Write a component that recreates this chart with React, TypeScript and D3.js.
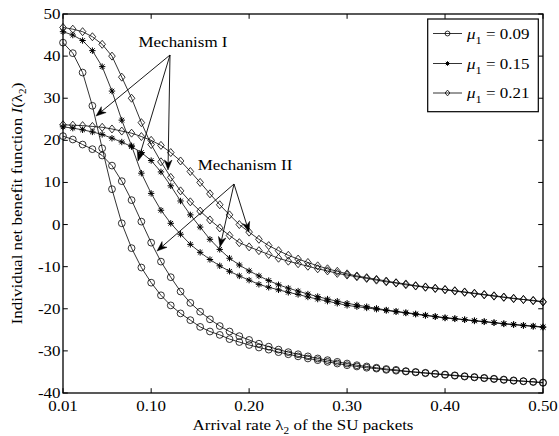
import React from 'react';
import * as d3 from 'd3';

const lambda = [
  0.01, 0.02, 0.03, 0.04, 0.05, 0.06, 0.07, 0.08, 0.09, 0.10,
  0.11, 0.12, 0.13, 0.14, 0.15, 0.16, 0.17, 0.18, 0.19, 0.20,
  0.21, 0.22, 0.23, 0.24, 0.25, 0.26, 0.27, 0.28, 0.29, 0.30,
  0.31, 0.32, 0.33, 0.34, 0.35, 0.36, 0.37, 0.38, 0.39, 0.40,
  0.41, 0.42, 0.43, 0.44, 0.45, 0.46, 0.47, 0.48, 0.49, 0.50,
];

// mu1 = 0.09
const mu009MechI = [
  43.2, 40.7, 36.1, 28.2, 18.1, 8.4, 0.3, -5.6, -10.2, -13.8,
  -16.8, -19.2, -21.1, -22.7, -24.3, -25.4, -26.2, -27.2, -27.9, -28.6,
  -29.2, -29.7, -30.3, -30.8, -31.3, -31.8, -32.2, -32.6, -33.0, -33.4,
  -33.7, -34.0, -34.2, -34.5, -34.7, -34.9, -35.1, -35.3, -35.5, -35.7,
  -35.9, -36.1, -36.3, -36.5, -36.7, -36.9, -37.1, -37.2, -37.4, -37.6,
];
const mu009MechII = [
  21.0, 20.2, 19.0, 17.9, 16.4, 14.0, 10.3, 5.8, 0.7, -4.3,
  -8.8, -12.5, -15.9, -18.6, -20.7, -22.5, -24.1, -25.4, -26.5, -27.4,
  -28.3, -29.0, -29.7, -30.3, -30.8, -31.3, -31.8, -32.2, -32.6, -33.0,
  -33.4, -33.7, -34.0, -34.3, -34.5, -34.8, -35.0, -35.2, -35.4, -35.6,
  -35.8, -36.0, -36.2, -36.4, -36.6, -36.8, -37.0, -37.2, -37.3, -37.5,
];
// mu1 = 0.15
const mu015MechI = [
  45.8, 45.0, 43.7, 41.3, 37.5, 31.7, 24.8, 18.7, 12.2, 7.4,
  3.4, 0.3, -2.3, -4.7, -6.6, -8.3, -9.8, -11.1, -12.2, -13.2,
  -14.2, -14.9, -15.5, -16.1, -16.6, -17.2, -17.7, -18.2, -18.7, -19.2,
  -19.5, -19.8, -20.1, -20.4, -20.7, -21.0, -21.3, -21.6, -21.9, -22.2,
  -22.4, -22.6, -22.9, -23.1, -23.3, -23.6, -23.8, -24.0, -24.2, -24.4,
];
const mu015MechII = [
  23.2, 22.9, 22.5, 22.0, 21.4, 20.5, 19.6, 18.5, 17.1, 15.2,
  12.5, 9.2, 5.6, 2.3, -0.6, -3.5, -5.9, -8.0, -9.6, -11.0,
  -12.2, -13.3, -14.3, -15.1, -15.8, -16.5, -17.1, -17.7, -18.2, -18.7,
  -19.1, -19.5, -19.9, -20.3, -20.6, -20.9, -21.2, -21.5, -21.8, -22.1,
  -22.3, -22.6, -22.8, -23.0, -23.3, -23.5, -23.7, -23.9, -24.1, -24.3,
];
// mu1 = 0.21
const mu021MechI = [
  46.8, 46.4, 45.8, 44.6, 42.8, 40.0, 35.0, 30.0, 24.2, 19.0,
  14.9, 11.2, 8.0, 5.4, 3.2, 1.1, -0.8, -2.6, -4.3, -5.3,
  -6.2, -7.1, -8.0, -8.7, -9.3, -9.9, -10.5, -11.0, -11.6, -12.0,
  -12.4, -12.8, -13.2, -13.6, -13.9, -14.3, -14.6, -14.9, -15.2, -15.5,
  -15.8, -16.1, -16.4, -16.7, -17.0, -17.3, -17.6, -17.8, -18.1, -18.4,
];
const mu021MechII = [
  23.7, 23.6, 23.5, 23.3, 23.1, 22.7, 22.2, 21.7, 20.9, 20.0,
  18.8, 17.1, 15.1, 12.6, 10.0, 7.3, 4.7, 2.3, 0.0, -1.8,
  -3.5, -5.0, -6.2, -7.3, -8.2, -9.0, -9.8, -10.5, -11.1, -11.7,
  -12.2, -12.6, -13.0, -13.4, -13.8, -14.1, -14.5, -14.8, -15.1, -15.4,
  -15.7, -16.0, -16.3, -16.6, -16.9, -17.2, -17.5, -17.8, -18.0, -18.3,
];

const xTicks = [0.01, 0.1, 0.2, 0.3, 0.4, 0.5];
const xTickLabels = ['0.01', '0.10', '0.20', '0.30', '0.40', '0.50'];
const yTicks = [-40, -30, -20, -10, 0, 10, 20, 30, 40, 50];
const legendLabels = ['0.09', '0.15', '0.21'];
const legendMarkers = ['o', '*', 'd'];

const W = 559;
const H = 436;
const L = 63, R = 543, T = 14, B = 393;
const FONT = "'Liberation Serif','Times New Roman',serif";
const FS = 15;
const SX = 1.13;

const x = d3.scaleLinear().domain([0.01, 0.5]).range([L, R]);
const y = d3.scaleLinear().domain([-40, 50]).range([B, T]);

const series = [
  { data: mu009MechI, marker: 'o' },
  { data: mu009MechII, marker: 'o' },
  { data: mu015MechI, marker: '*' },
  { data: mu015MechII, marker: '*' },
  { data: mu021MechI, marker: 'd' },
  { data: mu021MechII, marker: 'd' },
];

function Marker({ type, cx, cy, scale = 1 }: { type: string; cx: number; cy: number; scale?: number }) {
  if (type === 'o') {
    return <circle cx={cx} cy={cy} r={3.4 * scale} fill="none" stroke="#000" strokeWidth={0.8} />;
  }
  if (type === 'd') {
    const hw = 3.3 * scale, hh = 4.0 * scale;
    return (
      <path
        d={`M${cx},${cy - hh}L${cx + hw},${cy}L${cx},${cy + hh}L${cx - hw},${cy}Z`}
        fill="none"
        stroke="#000"
        strokeWidth={0.8}
      />
    );
  }
  const a = 3.2 * scale, b = 2.3 * scale;
  return (
    <path
      d={`M${cx - a},${cy}L${cx + a},${cy}M${cx},${cy - a}L${cx},${cy + a}M${cx - b},${cy - b}L${cx + b},${cy + b}M${cx - b},${cy + b}L${cx + b},${cy - b}`}
      stroke="#000"
      strokeWidth={1}
    />
  );
}

function Txt({ x: tx, y: ty, anchor = 'start', rot = 0, children, size = FS }: any) {
  return (
    <text
      transform={`translate(${tx},${ty}) rotate(${rot}) scale(${SX},1)`}
      textAnchor={anchor}
      fontFamily={FONT}
      fontSize={size}
      fill="#000"
    >
      {children}
    </text>
  );
}

function Arrow({ x1, y1, x2, y2 }: { x1: number; y1: number; x2: number; y2: number }) {
  const dx = x2 - x1, dy = y2 - y1;
  const len = Math.sqrt(dx * dx + dy * dy);
  const ux = dx / len, uy = dy / len;
  const nx = -uy, ny = ux;
  const hl = 10, hw = 3.8, notch = 3;
  const bx = x2 - hl * ux, by = y2 - hl * uy;
  const mx = x2 - (hl - notch) * ux, my = y2 - (hl - notch) * uy;
  return (
    <g>
      <line x1={x1} y1={y1} x2={mx} y2={my} stroke="#000" strokeWidth={0.9} />
      <path
        d={`M${x2},${y2}L${bx + hw * nx},${by + hw * ny}L${mx},${my}L${bx - hw * nx},${by - hw * ny}Z`}
        fill="#000"
        stroke="#000"
        strokeWidth={0.5}
      />
    </g>
  );
}

export default function App() {
  const line = d3
    .line<number>()
    .x((_, i) => x(lambda[i]))
    .y((d) => y(d));

  const mech1Origin = { x: 170, y: 55 };
  const mech1Targets = [
    { x: 96, y: 116 },
    { x: 138, y: 161 },
    { x: 168, y: 170 },
  ];
  const mech2Origin = { x: 234, y: 184 };
  const mech2Targets = [
    { x: 157, y: 251 },
    { x: 220, y: 247 },
    { x: 249, y: 232 },
  ];

  const tickLen = 4.8;
  const legX = 427.7, legY = 19, legW = 110.6, legH = 92.7;
  const rowY = [33.5, 63.5, 93];

  return (
    <svg
      width={W}
      height={H}
      style={{ position: 'absolute', left: 0, top: 0, background: '#fff' }}
    >
      <rect x={0} y={0} width={W} height={H} fill="#fff" />
      {/* curves */}
      {series.map((s, si) => (
        <path key={'l' + si} d={line(s.data) || ''} fill="none" stroke="#000" strokeWidth={0.8} />
      ))}
      {series.map((s, si) =>
        s.data.map((v, i) => (
          <Marker key={'m' + si + '-' + i} type={s.marker} cx={x(lambda[i])} cy={y(v)} />
        ))
      )}

      {/* axes box */}
      <rect x={L} y={T} width={R - L} height={B - T} fill="none" stroke="#000" strokeWidth={1.3} />
      {xTicks.map((t, i) => (
        <g key={'xt' + i}>
          <line x1={x(t)} x2={x(t)} y1={B} y2={B - tickLen} stroke="#000" strokeWidth={1} />
          <line x1={x(t)} x2={x(t)} y1={T} y2={T + tickLen} stroke="#000" strokeWidth={1} />
          <Txt x={x(t)} y={411} anchor="middle">{xTickLabels[i]}</Txt>
        </g>
      ))}
      {yTicks.map((t, i) => (
        <g key={'yt' + i}>
          <line x1={L} x2={L + tickLen} y1={y(t)} y2={y(t)} stroke="#000" strokeWidth={1} />
          <line x1={R} x2={R - tickLen} y1={y(t)} y2={y(t)} stroke="#000" strokeWidth={1} />
          <Txt x={60.5} y={y(t) + 5} anchor="end">{String(t)}</Txt>
        </g>
      ))}

      {/* axis titles */}
      <Txt x={(L + R) / 2} y={430} anchor="middle">
        Arrival rate λ<tspan fontSize={10} dy={4}>2</tspan>
        <tspan dy={-4}> of the SU packets</tspan>
      </Txt>
      <Txt x={21.5} y={(T + B) / 2} anchor="middle" rot={-90}>
        Individual net benefit function <tspan fontStyle="italic">I</tspan>(λ
        <tspan fontSize={10} dy={4}>2</tspan>
        <tspan dy={-4}>)</tspan>
      </Txt>

      {/* annotations */}
      <Txt x={183} y={47} anchor="middle">Mechanism I</Txt>
      {mech1Targets.map((p, i) => (
        <Arrow key={'a1' + i} x1={mech1Origin.x} y1={mech1Origin.y} x2={p.x} y2={p.y} />
      ))}
      <Txt x={245} y={170} anchor="middle">Mechanism II</Txt>
      {mech2Targets.map((p, i) => (
        <Arrow key={'a2' + i} x1={mech2Origin.x} y1={mech2Origin.y} x2={p.x} y2={p.y} />
      ))}

      {/* legend */}
      <rect x={legX} y={legY} width={legW} height={legH} fill="#fff" stroke="#000" strokeWidth={1.2} />
      {legendLabels.map((lab, i) => (
        <g key={'lg' + i}>
          <line x1={433} x2={462} y1={rowY[i]} y2={rowY[i]} stroke="#000" strokeWidth={0.8} />
          <Marker type={legendMarkers[i]} cx={447.5} cy={rowY[i]} scale={0.72} />
          <Txt x={467} y={rowY[i] + 5}>
            <tspan fontStyle="italic">μ</tspan>
            <tspan fontSize={11} dy={5}>1</tspan>
            <tspan dy={-5}> = {lab}</tspan>
          </Txt>
        </g>
      ))}
    </svg>
  );
}
